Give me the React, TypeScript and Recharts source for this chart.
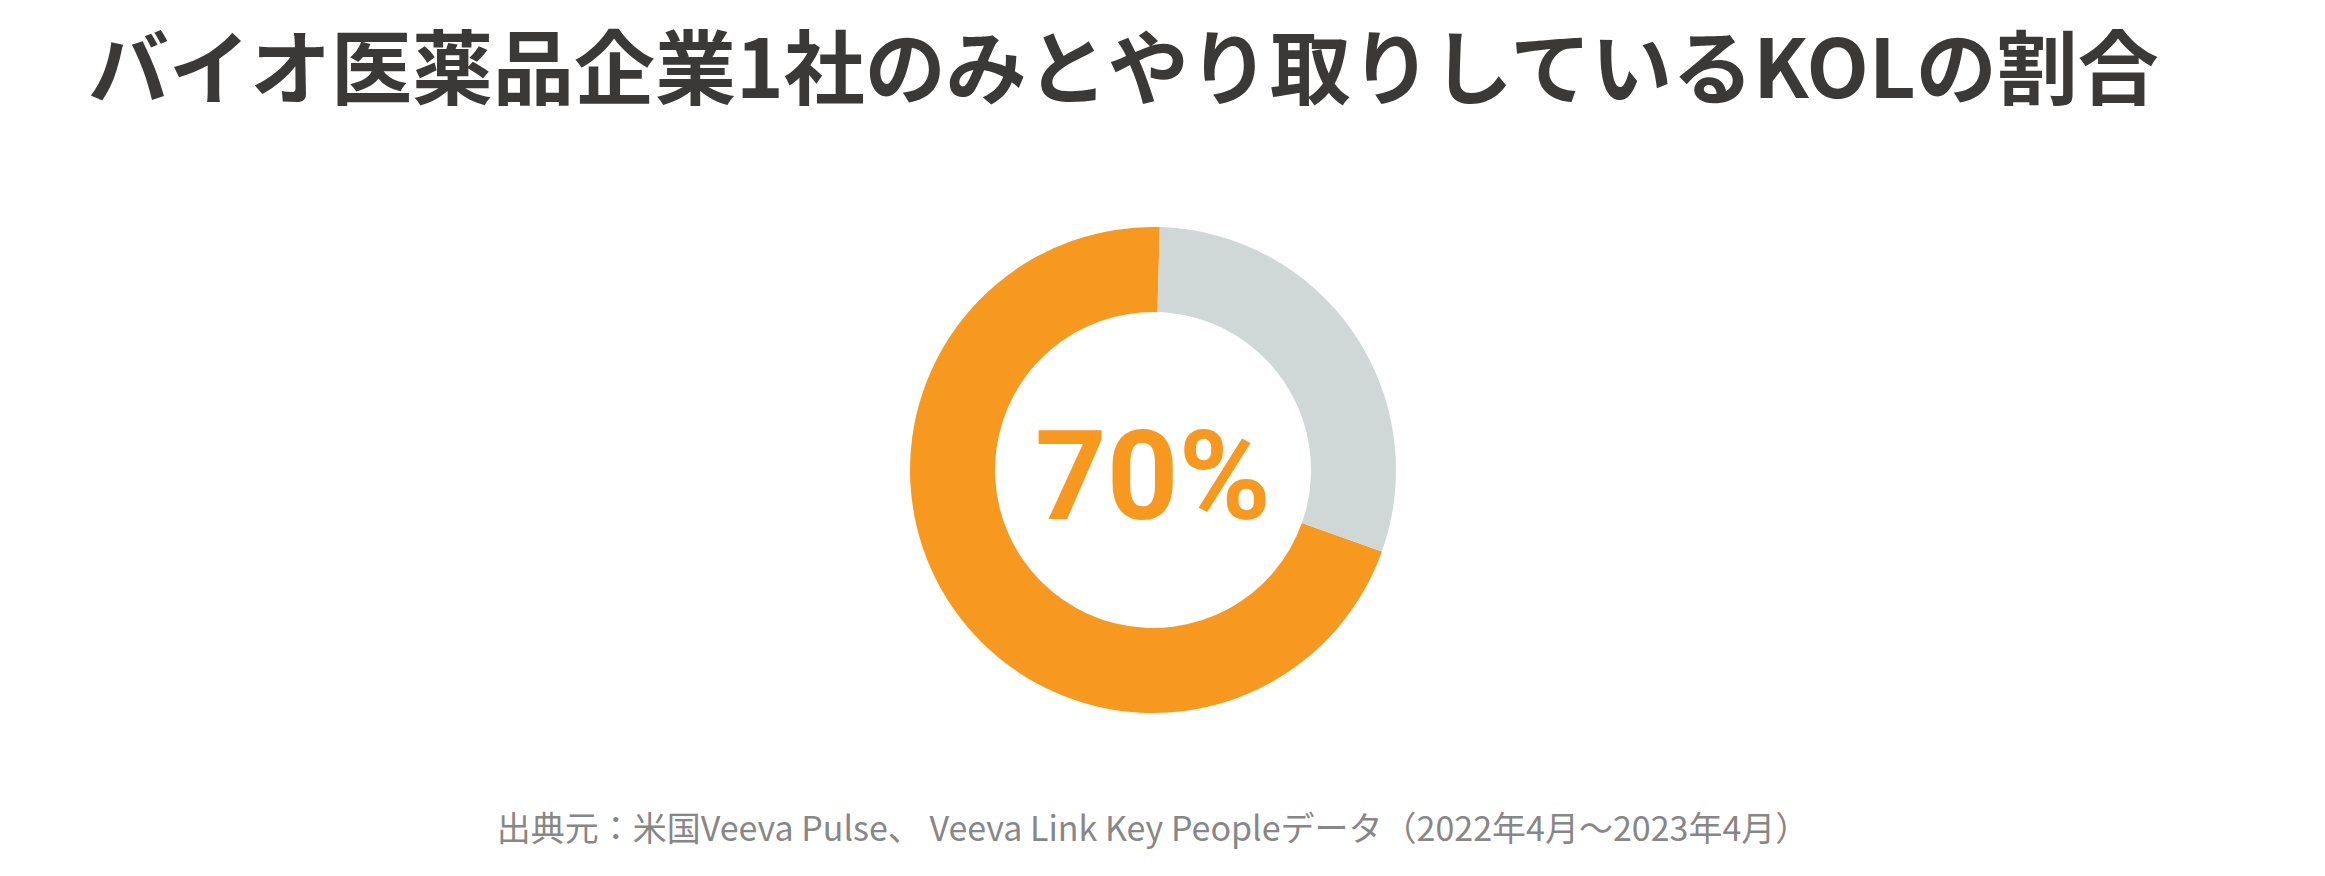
import React from 'react';
import { PieChart, Pie, Cell, Label } from 'recharts';

const categories = ['バイオ医薬品企業1社のみ', 'その他'];
const values = [70, 30];
const colors = ['#F7981F', '#CFD8D7'];
const centerLabel = '70%';
const title = 'バイオ医薬品企業1社のみとやり取りしているKOLの割合';
const source = '出典元：米国Veeva Pulse、 Veeva Link Key Peopleデータ（2022年4月～2023年4月）';

const data = categories.map((name, i) => ({ name, value: values[i] }));

const CX = 1153;
const CY = 470;

export default function App() {
  return (
    <div style={{ position: 'absolute', left: 0, top: 0, width: 2325, height: 876, background: '#fff', overflow: 'hidden' }}>
      <div
        style={{
          position: 'absolute',
          left: 88,
          top: 22,
          fontFamily: '"Noto Sans CJK JP", "Noto Sans", sans-serif',
          fontWeight: 700,
          fontSize: 81,
          lineHeight: '81px',
          color: '#3A3937',
          whiteSpace: 'nowrap',
          letterSpacing: 0,
        }}
      >
        {title}
      </div>
      <div style={{ position: 'absolute', left: 0, top: 0 }}>
        <PieChart width={2325} height={876} margin={{ top: 0, right: 0, bottom: 0, left: 0 }}>
          <Pie
            data={data}
            dataKey="value"
            nameKey="name"
            cx={CX}
            cy={CY}
            innerRadius={158}
            outerRadius={243}
            startAngle={88.4}
            endAngle={448.4}
            stroke="none"
            isAnimationActive={false}
          >
            {data.map((d, i) => (
              <Cell key={d.name} fill={colors[i]} />
            ))}
            <Label
              position="center"
              content={(props: any) => {
                const vb = props.viewBox || {};
                const cx = vb.cx ?? CX;
                const cy = vb.cy ?? CY;
                return (
                  <text
                    x={cx}
                    y={cy + 49}
                    textAnchor="middle"
                    fill="#F7981F"
                    fontFamily="Roboto, sans-serif"
                    fontWeight={700}
                    fontSize={125}
                  >
                    {centerLabel}
                  </text>
                );
              }}
            />
          </Pie>
        </PieChart>
      </div>
      <div
        style={{
          position: 'absolute',
          left: 0,
          width: 2306,
          top: 806,
          textAlign: 'center',
          fontFamily: '"Noto Sans CJK JP", "Noto Sans", sans-serif',
          fontSize: 34,
          lineHeight: '42px',
          color: '#878787',
          whiteSpace: 'nowrap',
        }}
      >
        {source}
      </div>
    </div>
  );
}
